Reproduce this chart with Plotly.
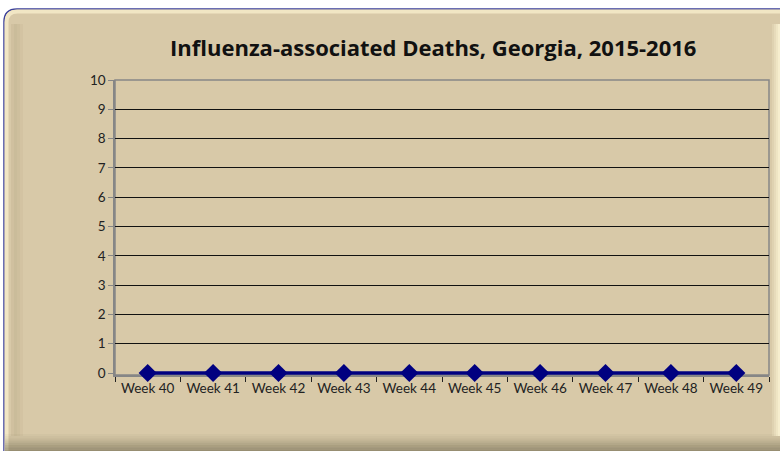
import plotly.graph_objects as go

weeks = ["Week 40", "Week 41", "Week 42", "Week 43", "Week 44",
         "Week 45", "Week 46", "Week 47", "Week 48", "Week 49"]
deaths = [0, 0, 0, 0, 0, 0, 0, 0, 0, 0]
y_ticks = [0, 1, 2, 3, 4, 5, 6, 7, 8, 9, 10]
title_text = "Influenza-associated Deaths, Georgia, 2015-2016"

W, H = 780, 451
L, R, T, B = 115, 11, 80, 76
PW, PH = W - L - R, H - T - B

def px(x):
    return (x - L) / PW

def py(y):
    return (H - B - y) / PH

def rounded_path(x0, y0, x1, y1, r):
    pts = [
        f"M {px(x0 + r)},{py(y0)}",
        f"L {px(x1 - r)},{py(y0)}",
        f"Q {px(x1)},{py(y0)} {px(x1)},{py(y0 + r)}",
        f"L {px(x1)},{py(y1 - r)}",
        f"Q {px(x1)},{py(y1)} {px(x1 - r)},{py(y1)}",
        f"L {px(x0 + r)},{py(y1)}",
        f"Q {px(x0)},{py(y1)} {px(x0)},{py(y1 - r)}",
        f"L {px(x0)},{py(y0 + r)}",
        f"Q {px(x0)},{py(y0)} {px(x0 + r)},{py(y0)}",
        "Z",
    ]
    return " ".join(pts)

shapes = []
# outer frame
shapes.append(dict(type="path", xref="paper", yref="paper", layer="below",
                   path=rounded_path(4, 9, 800, 480, 13),
                   fillcolor="#D8C9A8", line=dict(color="#3A3F9A", width=1.5)))
# bevel highlight (left/top light band)
shapes.append(dict(type="path", xref="paper", yref="paper", layer="below",
                   path=rounded_path(6.5, 11.5, 797, 477, 11),
                   fillcolor="rgba(0,0,0,0)", line=dict(color="#F1E6C4", width=4)))
# left darker bevel band
for i, a in enumerate([0.08, 0.12, 0.09, 0.05]):
    x0 = 11 + i * 3
    shapes.append(dict(type="rect", xref="paper", yref="paper", layer="below",
                       x0=px(x0), x1=px(x0 + 3), y0=py(436), y1=py(24),
                       fillcolor=f"rgba(110,95,60,{a})", line=dict(width=0)))
# bottom shadow gradient
for i, a in enumerate([0.04, 0.08, 0.13, 0.19, 0.26, 0.33, 0.40, 0.46]):
    y0 = 434 + i * 2.2
    shapes.append(dict(type="rect", xref="paper", yref="paper", layer="below",
                       x0=px(5), x1=px(780), y0=py(y0 + 2.2), y1=py(y0),
                       fillcolor=f"rgba(75,72,50,{a})", line=dict(width=0)))
# right light edge (soft)
for i, a in enumerate([0.2, 0.4, 0.6, 0.8]):
    x0 = 772 + i * 2
    shapes.append(dict(type="rect", xref="paper", yref="paper", layer="below",
                       x0=px(x0), x1=px(x0 + 2), y0=py(436), y1=py(24),
                       fillcolor=f"rgba(255,248,215,{a})", line=dict(width=0)))
# plot area border (gray)
shapes.append(dict(type="rect", xref="paper", yref="paper", layer="below",
                   x0=0, x1=1, y0=0, y1=1, fillcolor="rgba(0,0,0,0)",
                   line=dict(color="#868686", width=1.5)))

fig = go.Figure()
fig.add_trace(go.Scatter(
    x=weeks, y=deaths, mode="lines+markers",
    line=dict(color="#000080", width=3.5),
    marker=dict(symbol="diamond", size=14, color="#000080"),
    cliponaxis=False, showlegend=False,
))

fig.update_layout(
    width=W, height=H,
    margin=dict(l=L, r=R, t=T, b=B),
    paper_bgcolor="white",
    plot_bgcolor="rgba(0,0,0,0)",
    shapes=shapes,
    showlegend=False,
    font=dict(family="Lato, Open Sans, sans-serif", color="#222222"),
    annotations=[dict(
        text=f"<b>{title_text}</b>", xref="paper", yref="paper",
        x=px(433), y=py(47), xanchor="center", yanchor="middle",
        showarrow=False, font=dict(size=22, color="#111111",
                                   family="Open Sans, sans-serif"),
    )],
)
fig.update_xaxes(
    type="category", tickson="boundaries", ticks="outside", ticklen=5,
    tickcolor="#222222", showline=True, linecolor="#868686", linewidth=1.5,
    showgrid=False, tickfont=dict(size=13.5, color="#222222"),
    range=[-0.5, len(weeks) - 0.5], zeroline=False, layer="below traces",
)
fig.update_yaxes(
    range=[-0.068, 10], tickvals=y_ticks, ticks="outside", ticklen=5,
    tickcolor="#868686", showline=True, linecolor="#868686", linewidth=1.5,
    showgrid=False, zeroline=False,
    minor=dict(tickvals=y_ticks[1:-1], showgrid=True, gridcolor="#111111",
               gridwidth=1, ticks=""),
    tickfont=dict(size=13.5, color="#222222"), layer="below traces",
)

fig.write_html("out.html",
               config={"displayModeBar": False},
               post_script="document.body.style.margin='0';document.body.style.padding='0';")
